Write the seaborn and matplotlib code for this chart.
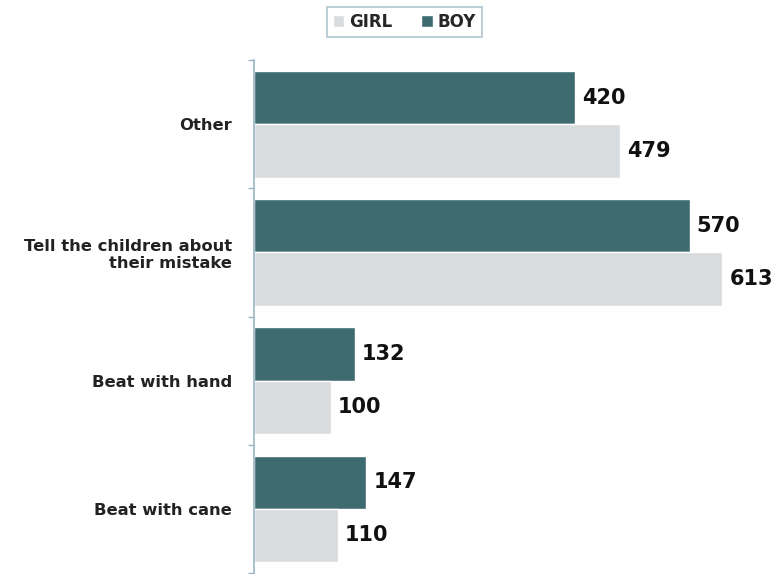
import matplotlib
matplotlib.use("Agg")
import matplotlib.pyplot as plt
import numpy as np
import pandas as pd
import seaborn as sns
from matplotlib.patches import Patch

# ------------------------------------------------------------------------------
# Data
# ------------------------------------------------------------------------------
categories = ["Other", "Tell the children about\ntheir mistake", "Beat with hand", "Beat with cane"]
boy_counts = [420, 570, 132, 147]
girl_counts = [479, 613, 100, 110]

BOY_COLOR = "#3e6b70"
GIRL_COLOR = "#d9dcde"

df = pd.DataFrame({
    "category": categories * 2,
    "gender": ["BOY"] * len(categories) + ["GIRL"] * len(categories),
    "count": boy_counts + girl_counts,
})

sns.set_theme(style="white")
plt.rcParams["font.family"] = ["DejaVu Sans"]

fig = plt.figure(figsize=(7.82, 5.74), dpi=100)
ax = fig.add_axes([0.325, 0.002, 0.675, 0.893])

sns.barplot(
    data=df, y="category", x="count", hue="gender",
    order=categories, hue_order=["BOY", "GIRL"],
    palette={"BOY": BOY_COLOR, "GIRL": GIRL_COLOR},
    orient="h", width=0.83, gap=0, ax=ax, legend=False, saturation=1,
)

for container in ax.containers:
    ax.bar_label(container, fmt="%d", padding=5, fontsize=15, fontweight="bold", color="#111111")

ax.set_xlim(0, 691)
ax.set_ylim(len(categories) - 0.5, -0.5)
ax.set_xlabel("")
ax.set_ylabel("")
ax.set_xticks([])
ax.tick_params(axis="y", which="major", length=0, pad=16, labelsize=11.8)
ax.set_yticks(np.arange(-0.5, len(categories) + 0.5, 1), minor=True)
ax.tick_params(axis="y", which="minor", left=True, length=4, color="#9ab4c4", width=1)
for lbl in ax.get_yticklabels():
    lbl.set_fontweight("bold")
    lbl.set_color("#222222")

for side in ["top", "right", "bottom"]:
    ax.spines[side].set_visible(False)
ax.spines["left"].set_color("#9ab4c4")
ax.spines["left"].set_linewidth(1.2)

handles = [Patch(facecolor=GIRL_COLOR, label="GIRL"), Patch(facecolor=BOY_COLOR, label="BOY")]
leg = fig.legend(
    handles=handles, loc="upper center", bbox_to_anchor=(0.517, 1.002), ncol=2,
    frameon=True, fancybox=False, handlelength=0.7, handleheight=0.7,
    handletextpad=0.3, columnspacing=1.7, borderpad=0.35,
    prop={"size": 12, "weight": "bold"},
)
leg.get_frame().set_edgecolor("#9ab4c4")
leg.get_frame().set_linewidth(1.2)

fig.savefig("out.png", dpi=100)
